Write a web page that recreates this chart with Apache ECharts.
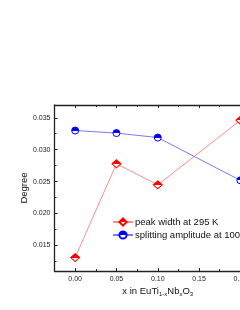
<!DOCTYPE html>
<html><head><meta charset="utf-8">
<script src="https://cdn.jsdelivr.net/npm/echarts@6/dist/echarts.min.js"></script>
<style>html,body{margin:0;padding:0;overflow:hidden;background:#fff;width:240px;height:310px}#c{width:300px;height:310px}</style>
</head><body><div id="c"></div>
<script>
const xValues = [0.00, 0.05, 0.10, 0.20];
const peakWidth = [0.0131, 0.0278, 0.0245, 0.0346];
const splitAmp = [0.0330, 0.0326, 0.0319, 0.0252];
const seriesNames = ['peak width at 295 K', 'splitting amplitude at 100 K'];
const xMajor = [0.00, 0.05, 0.10, 0.15, 0.20];
const xMinor = [0.025, 0.075, 0.125, 0.175];
const yMajor = [0.015, 0.020, 0.025, 0.030, 0.035];
const yMinor = [0.0125, 0.0175, 0.0225, 0.0275, 0.0325];

const FONT = 'Arial, "Liberation Sans", sans-serif';
function half(c){return {type:'linear',x:0,y:0,x2:0,y2:1,colorStops:[{offset:0,color:c},{offset:0.5,color:c},{offset:0.5,color:'#fff'},{offset:1,color:'#fff'}]};}
const xb = {min:-0.025,max:0.225};
const yb = {min:0.011,max:0.037};
const lineSt = {show:true,onZero:false,lineStyle:{color:'#222',width:1.3}};
const noLine = {show:false,onZero:false};
const chart = echarts.init(document.getElementById('c'));
chart.setOption({
  animation:false,
  grid:{left:54.5,right:39,top:105,bottom:39},
  legend:{left:107,top:212,orient:'vertical',itemWidth:20,itemHeight:9,itemGap:3,
    textStyle:{fontFamily:FONT,fontSize:9.5,color:'#111',padding:[0,0,0,-3]},data:seriesNames},
  xAxis:[
    Object.assign({type:'value',position:'bottom',axisLine:lineSt,splitLine:{show:false},
      axisTick:{inside:true,length:3,customValues:xMajor,lineStyle:{color:'#222'}},
      axisLabel:{customValues:xMajor,formatter:v=>v.toFixed(2),fontFamily:FONT,fontSize:7,color:'#222',margin:5},
      name:'x in EuTi{s|1-x}Nb{s|x}O{s|3}',nameLocation:'middle',nameGap:15,nameMoveOverlap:false,
      nameTextStyle:{fontFamily:FONT,fontSize:9.5,color:'#111',rich:{s:{fontSize:6,verticalAlign:'bottom',padding:[5,0,0,0],fontFamily:FONT,color:'#111'}}}},xb),
    Object.assign({type:'value',position:'bottom',axisLine:noLine,splitLine:{show:false},
      axisTick:{inside:true,length:2,customValues:xMinor,lineStyle:{color:'#222'}},axisLabel:{show:false}},xb),
    Object.assign({type:'value',position:'top',axisLine:lineSt,splitLine:{show:false},
      axisTick:{inside:true,length:3,customValues:xMajor,lineStyle:{color:'#222'}},axisLabel:{show:false}},xb),
    Object.assign({type:'value',position:'top',axisLine:noLine,splitLine:{show:false},
      axisTick:{inside:true,length:2,customValues:xMinor,lineStyle:{color:'#222'}},axisLabel:{show:false}},xb)
  ],
  yAxis:[
    Object.assign({type:'value',position:'left',axisLine:lineSt,splitLine:{show:false},
      axisTick:{inside:true,length:3,customValues:yMajor,lineStyle:{color:'#222'}},
      axisLabel:{customValues:yMajor,formatter:v=>v.toFixed(3),fontFamily:FONT,fontSize:7,color:'#222',margin:4},
      name:'Degree',nameLocation:'middle',nameGap:25,nameMoveOverlap:false,
      nameTextStyle:{fontFamily:FONT,fontSize:9.5,color:'#111'}},yb),
    Object.assign({type:'value',position:'left',axisLine:noLine,splitLine:{show:false},
      axisTick:{inside:true,length:2,customValues:yMinor,lineStyle:{color:'#222'}},axisLabel:{show:false}},yb),
    Object.assign({type:'value',position:'right',axisLine:lineSt,splitLine:{show:false},
      axisTick:{inside:true,length:3,customValues:yMajor,lineStyle:{color:'#222'}},axisLabel:{show:false}},yb)
  ],
  series:[
    {name:seriesNames[0],type:'line',xAxisIndex:0,yAxisIndex:0,data:xValues.map((x,i)=>[x,peakWidth[i]]),
      symbol:'diamond',symbolSize:[9,8],lineStyle:{color:'#ff8c8c',width:1},
      itemStyle:{color:half('#ff0000'),borderColor:'#ff0000',borderWidth:1}},
    {name:seriesNames[1],type:'line',xAxisIndex:0,yAxisIndex:0,data:xValues.map((x,i)=>[x,splitAmp[i]]),
      symbol:'circle',symbolSize:7,lineStyle:{color:'#7a7aff',width:1},
      itemStyle:{color:half('#0000ff'),borderColor:'#0000ff',borderWidth:1}}
  ]
});
</script></body></html>
